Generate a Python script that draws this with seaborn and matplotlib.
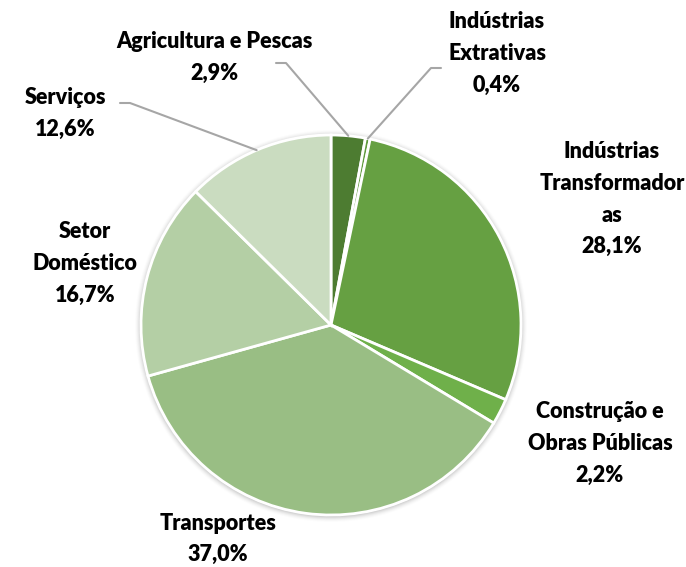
import numpy as np
import seaborn as sns
import matplotlib.pyplot as plt

# sector shares (%)
sectors = ['Agricultura e Pescas', 'Indústrias Extrativas', 'Indústrias Transformadoras',
           'Construção e Obras Públicas', 'Transportes', 'Setor Doméstico', 'Serviços']
shares = [2.9, 0.4, 28.1, 2.2, 37.0, 16.7, 12.6]
label_text = [
    'Agricultura e Pescas\n2,9%',
    'Indústrias\nExtrativas\n0,4%',
    'Indústrias\nTransformador\nas\n28,1%',
    'Construção e\nObras Públicas\n2,2%',
    'Transportes\n37,0%',
    'Setor\nDoméstico\n16,7%',
    'Serviços\n12,6%',
]
colors = ['#4d7c31', '#5f9a3c', '#66a042', '#6fb04a', '#99be84', '#b4cfa5', '#cadcc0']

sns.set_theme(style='white')
plt.rcParams['font.family'] = ['Lato', 'DejaVu Sans']

fig = plt.figure(figsize=(6.86, 5.67), dpi=100)
ax = fig.add_axes([0, 0, 1, 1])

cx, cy, R = 331, 567 - 325, 190

# soft shadow around the pie
for i, a in enumerate(np.linspace(0.05, 0.01, 6)):
    ax.add_patch(plt.Circle((cx, cy - 1), R + 1 + i, color='black', alpha=a, lw=0, zorder=0))

ax.pie(shares, colors=colors, startangle=90, counterclock=False,
       center=(cx, cy), radius=R, frame=True,
       wedgeprops=dict(edgecolor='white', linewidth=2, zorder=1))
ax.set_xlim(0, 686)
ax.set_ylim(0, 567)
ax.set_aspect('equal')
ax.axis('off')

# label positions in pixels (x centre, y of first line from top)
label_pos = [(214, 42), (497, 22), (612, 152), (600, 412), (218, 523), (85, 232), (65, 98)]
line_h = 31.5
for txt, (x, y) in zip(label_text, label_pos):
    for k, line in enumerate(txt.split('\n')):
        ax.text(x, 567 - (y + k * line_h), line, ha='center', va='center',
                fontsize=15.5, fontweight='heavy', color='black')

# leader lines for small / upper slices
cum = np.cumsum([0] + shares[:-1])
mid_angle = {s: np.deg2rad(90 - (c + v / 2) * 3.6) for s, c, v in zip(sectors, cum, shares)}
leaders = {
    'Agricultura e Pescas': [(276, 63), (286, 63)],
    'Indústrias Extrativas': [(441, 68), (431, 68)],
    'Serviços': [(120, 103), (130, 103)],
}
for s, pts in leaders.items():
    a = mid_angle[s]
    end = (cx + R * np.cos(a), cy + R * np.sin(a))
    xs = [p[0] for p in pts] + [end[0]]
    ys = [567 - p[1] for p in pts] + [end[1]]
    ax.plot(xs, ys, color='#a6a6a6', lw=1.5, zorder=3)

fig.savefig('out.png', dpi=100)
